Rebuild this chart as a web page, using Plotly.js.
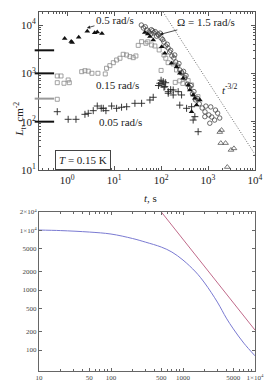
<!DOCTYPE html>
<html><head><meta charset="utf-8">
<script src="https://cdn.plot.ly/plotly-3.0.1.min.js"></script>
<style>html,body{margin:0;padding:0;background:#fff}</style>
</head><body><div id="plot" style="width:273px;height:385px"></div>
<script>
// ---- Top panel data (t in s, L in cm^-2) ----
const circ_t = [38,42,46,50,55,61,66,70,80,89,95,100,108,115,126,135,141,152,160,170,187,195,205,226,240,250,276,300,318,340,366,405,430,466,500,540,600,650,750,860,900,1040,1140,1200,1380,1440,1600,1770,855,1090,62,75,85];
const circ_L = [10000,8700,9200,7900,7200,6560,7600,6900,5900,6200,6800,5400,5000,4450,3680,4000,3350,2770,3000,2290,2080,2400,1720,1420,1600,1175,1020,1100,800,900,600,500,560,375,420,282,300,234,192,160,210,138,202,125,108,174,150,119,127,93,8000,7300,6500];
const tri_t = [0.885,1.22,1.28,1.76,2.68,3.85,4.37,5.5,45,52,58,68,103,120,167,214,251,295,377,410,482,523,446,569,670];
const tri_L = [5250,4570,4340,5600,7400,6900,7200,6650,7000,6500,5760,4900,3570,2600,1620,1377,1000,793,576,453,357,305,161,222,281];
const sq_t = [0.615,0.74,0.615,0.855,1.05,1.11,0.615,2.04,2.39,2.81,3.37,4.52,6.47,6.9,8.1,9.6,11.3,13.3,15.6,18.4,21.7,25.5,29.1,32.6,38.5,47.5,52,62.8,73.8,91,100,115,126,141,181,213,273,321,377,446,550,610,200,250,290];
const sq_L = [883,883,641,624,730,641,291,1084,1135,1110,1004,1004,973,1276,1443,1663,1893,2055,2482,2400,2218,2113,2293,3800,4530,4200,4500,3870,3690,3050,1150,2400,2056,1663,1566,1175,1034,830,707,576,310,330,650,700,620];
const cr_t = [0.615,1.05,1.54,2.39,2.81,3.59,4.37,5.32,5.87,6.69,8.85,11.3,14.4,18.5,27.7,38.5,57.8,68,88,94,100,105,111,115,120,125,142,160,181,231,250,273,349,446,482,523,615,142,181];
const cr_L = [161,112,112,142,149,169,211,190,189,169,211,189,199,204,240,240,281,320,560,624,720,600,673,520,531,640,418,460,453,418,220,357,189,204,108,127,62,387,357];
const otri_t = [1780,1940,1870,2360,3080,3560,2570];
const otri_L = [61,67,36,36,26,28,11.5];
const slope_t = [110,10000];
const slope_L = [18600,21];
const bar_L = [3000,1000,300,100];
const bar_col = ['#111','#111','#999','#111'];
const topTicks = [1,10,100,1000,10000];
const topTickText = ['10<sup>0</sup>','10<sup>1</sup>','10<sup>2</sup>','10<sup>3</sup>','10<sup>4</sup>'];
const topYTicks = [10,100,1000,10000];
const topYTickText = ['10<sup>1</sup>','10<sup>2</sup>','10<sup>3</sup>','10<sup>4</sup>'];

// ---- Bottom panel data ----
const model_t = [10,20,50,100,200,300,500,700,1000,1500,2000,3000,4000,5000,7000,10000];
const model_L = [10000,9800,9260,8580,7220,6300,5200,4300,3160,2000,1310,630,340,225,130,80];
const power_t = [500,10000];
const power_L = [20000,215];
const botXTicks = [10,50,100,500,1000,5000,10000];
const botXText = ['10','50','100','500','1000','5000','1×10<sup>4</sup>'];
const botYTicks = [100,200,500,1000,2000,5000,10000,20000];
const botYText = ['100','200','500','1000','2000','5000','1×10<sup>4</sup>','2×10<sup>4</sup>'];

function minorVals(lo, hi){ const v=[]; for(let e=lo;e<hi;e++){for(let k=2;k<=9;k++)v.push(k*Math.pow(10,e));} return v; }

const serif = 'Liberation Serif, Times New Roman, serif';
const traces = [
  {x:slope_t,y:slope_L,xaxis:'x',yaxis:'y',mode:'lines',line:{color:'#444',width:0.8,dash:'1px,1.6px'},hoverinfo:'skip'},
  {x:sq_t,y:sq_L,xaxis:'x',yaxis:'y',mode:'markers',marker:{symbol:'square-open',size:4,color:'#8a8a8a',line:{width:0.8}}},
  {x:cr_t,y:cr_L,xaxis:'x',yaxis:'y',mode:'markers',marker:{symbol:'cross-thin-open',size:5,color:'#222',line:{width:0.9,color:'#222'}}},
  {x:circ_t,y:circ_L,xaxis:'x',yaxis:'y',mode:'markers',marker:{symbol:'circle-open',size:4.5,color:'#444',line:{width:0.8}}},
  {x:otri_t,y:otri_L,xaxis:'x',yaxis:'y',mode:'markers',marker:{symbol:'triangle-up-open',size:5,color:'#555',line:{width:0.8}}},
  {x:tri_t,y:tri_L,xaxis:'x',yaxis:'y',mode:'markers',marker:{symbol:'triangle-up',size:5,color:'#111'}},
  {x:model_t,y:model_L,xaxis:'x2',yaxis:'y2',mode:'lines',line:{color:'#7a7ad2',width:1,shape:'spline'}},
  {x:power_t,y:power_L,xaxis:'x2',yaxis:'y2',mode:'lines',line:{color:'#c06a8a',width:1}}
];

const shapes = bar_L.map((v,i)=>({type:'line',xref:'paper',yref:'y',x0:-0.02,x1:0.07,y0:v,y1:v,line:{color:bar_col[i],width:2}}));

const axTop = {type:'log',showgrid:false,zeroline:false,showline:true,linecolor:'#555',linewidth:1,mirror:'ticks',ticks:'inside',ticklen:4,tickcolor:'#555',tickfont:{family:serif,size:11,color:'#222'}};
const layout = {
  width:273,height:385,margin:{l:39,r:18,t:12,b:14},paper_bgcolor:'#fff',plot_bgcolor:'#fff',showlegend:false,
  font:{family:serif,color:'#222'},
  xaxis:Object.assign({},axTop,{anchor:'y',domain:[0,1],range:[-0.6,4],tickmode:'array',tickvals:topTicks,ticktext:topTickText,
    minor:{tickmode:'array',tickvals:minorVals(-1,4),ticks:'inside',ticklen:2,tickcolor:'#555'}}),
  yaxis:Object.assign({},axTop,{anchor:'x',domain:[0.5599,1],range:[1,4.27],tickmode:'array',tickvals:topYTicks,ticktext:topYTickText,
    minor:{tickmode:'array',tickvals:minorVals(1,5),ticks:'inside',ticklen:2,tickcolor:'#555'}}),
  xaxis2:{type:'log',anchor:'y2',domain:[0,1],range:[1,4],showgrid:false,zeroline:false,showline:true,linecolor:'#666',linewidth:1,mirror:'ticks',
    ticks:'inside',ticklen:3,tickcolor:'#666',tickmode:'array',tickvals:botXTicks,ticktext:botXText,tickfont:{family:serif,size:7,color:'#444'},
    minor:{tickmode:'array',tickvals:minorVals(1,4),ticks:'inside',ticklen:2,tickcolor:'#666'}},
  yaxis2:{type:'log',anchor:'x2',domain:[0,0.4429],range:[1.65,4.301],showgrid:false,zeroline:false,showline:true,linecolor:'#666',linewidth:1,mirror:'ticks',
    ticks:'inside',ticklen:3,tickcolor:'#666',tickmode:'array',tickvals:botYTicks,ticktext:botYText,tickfont:{family:serif,size:7,color:'#444'}},
  shapes:shapes,
  annotations:[
    {xref:'x',yref:'y',x:Math.log10(2.64),y:Math.log10(8700),ax:28,ay:-8,text:'0.5 rad/s',showarrow:true,arrowhead:2,arrowsize:0.8,arrowwidth:0.8,arrowcolor:'#222',font:{size:11}},
    {xref:'x',yref:'y',x:Math.log10(95),y:Math.log10(6400),ax:46,ay:-12,text:'Ω = 1.5 rad/s',showarrow:true,arrowhead:2,arrowsize:0.8,arrowwidth:0.8,arrowcolor:'#222',font:{size:11}},
    {xref:'x',yref:'y',x:Math.log10(11.6),y:Math.log10(575),text:'0.15 rad/s',showarrow:false,font:{size:11}},
    {xref:'x',yref:'y',x:Math.log10(13.5),y:Math.log10(98),text:'0.05 rad/s',showarrow:false,font:{size:11}},
    {xref:'x',yref:'y',x:Math.log10(2950),y:Math.log10(480),text:'<i>t</i><sup>-3/2</sup>',showarrow:false,font:{size:11}},
    {xref:'x',yref:'y',x:Math.log10(2.2),y:Math.log10(16),text:'<i>T</i> = 0.15 K',showarrow:false,bordercolor:'#444',borderwidth:1,borderpad:3,bgcolor:'#fff',font:{size:11}},
    {xref:'paper',yref:'paper',x:-0.134,y:0.755,text:'<i>L</i><sub>t</sub>, cm<sup>-2</sup>',textangle:-90,showarrow:false,font:{size:11}},
    {xref:'paper',yref:'paper',x:0.514,y:0.482,text:'<i>t</i>, s',showarrow:false,font:{size:11}}
  ]
};
Plotly.newPlot('plot',traces,layout,{staticPlot:true,displayModeBar:false});
</script></body></html>
